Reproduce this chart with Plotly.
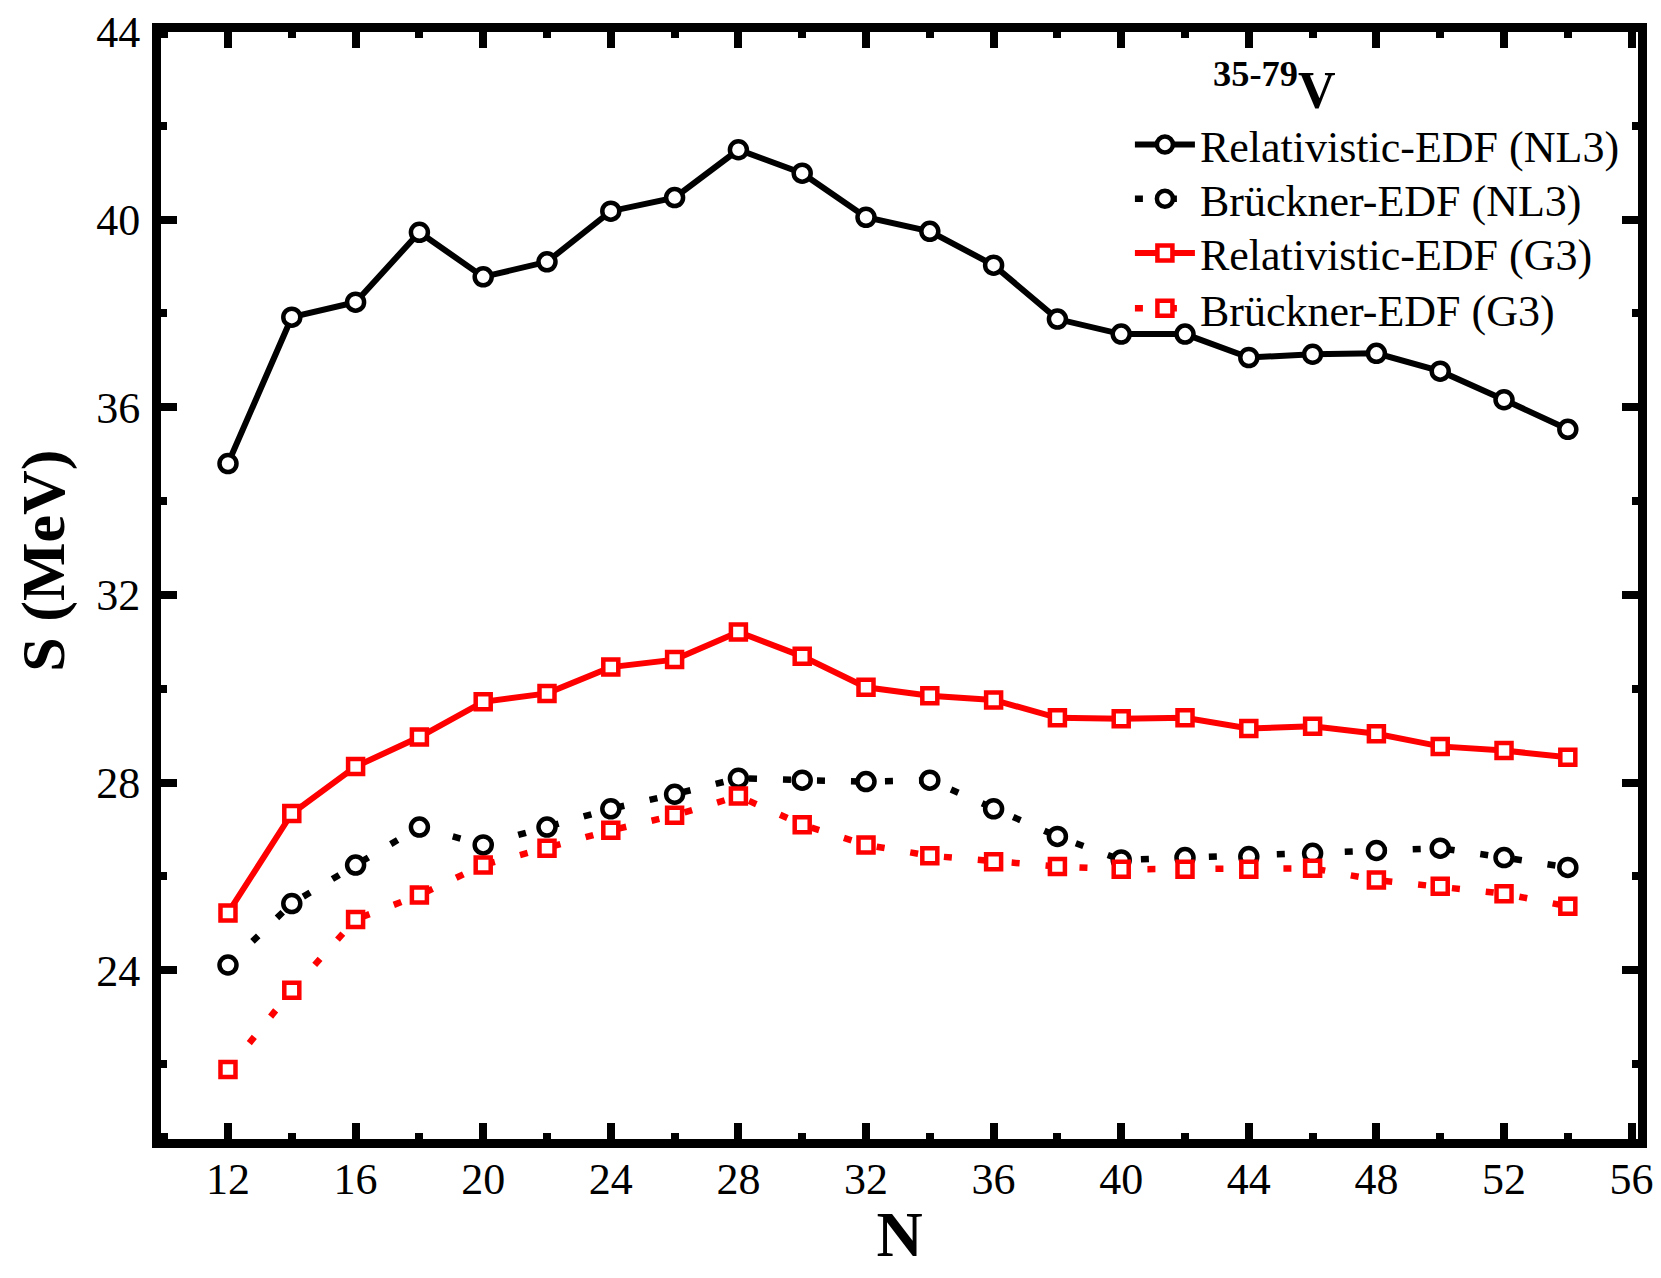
import plotly.graph_objects as go

# neutron number
N = [12, 14, 16, 18, 20, 22, 24, 26, 28, 30, 32, 34, 36, 38, 40, 42, 44, 46, 48, 50, 52, 54]

# symmetry energy S (MeV)
rel_nl3 = [34.80, 37.92, 38.24, 39.73, 38.78, 39.10, 40.18, 40.47, 41.49, 40.99, 40.05,
           39.75, 39.03, 37.88, 37.56, 37.56, 37.06, 37.13, 37.15, 36.77, 36.16, 35.53]
bru_nl3 = [24.11, 25.42, 26.24, 27.05, 26.67, 27.05, 27.44, 27.75, 28.09, 28.05, 28.02,
           28.05, 27.44, 26.85, 26.35, 26.40, 26.42, 26.49, 26.55, 26.60, 26.40, 26.19]
rel_g3 = [25.22, 27.34, 28.34, 28.97, 29.72, 29.90, 30.46, 30.62, 31.21, 30.69, 30.03,
          29.85, 29.76, 29.38, 29.36, 29.38, 29.15, 29.20, 29.04, 28.77, 28.68, 28.54]
bru_g3 = [21.88, 23.57, 25.08, 25.60, 26.24, 26.60, 26.98, 27.30, 27.71, 27.10, 26.67,
          26.44, 26.31, 26.21, 26.15, 26.15, 26.15, 26.17, 25.92, 25.79, 25.63, 25.36]

names = ["Relativistic-EDF (NL3)", "Brückner-EDF (NL3)",
         "Relativistic-EDF (G3)", "Brückner-EDF (G3)"]

FONT = "Liberation Serif, Times New Roman, serif"
dotted = "8px,26px"

fig = go.Figure()

def add(y, name, color, symbol, dash, width, size, leg):
    fig.add_trace(go.Scatter(
        x=N, y=y, name=name, mode="lines+markers", legend=leg,
        line=dict(color=color, width=width, dash=dash),
        marker=dict(symbol=symbol, size=size, color="white",
                    line=dict(color=color, width=4.5)),
    ))

add(rel_nl3, names[0], "black", "circle", "solid", 6, 17, "legend")
add(bru_nl3, names[1], "black", "circle", dotted, 6.5, 17, "legend2")
add(rel_g3, names[2], "#ff0000", "square", "solid", 6, 15, "legend3")
add(bru_g3, names[3], "#ff0000", "square", dotted, 6.5, 15, "legend4")

axis_common = dict(
    showline=True, linewidth=9, linecolor="black", mirror="allticks",
    ticks="inside", ticklen=16, tickwidth=8, tickcolor="black",
    showgrid=False, zeroline=False, automargin=False,
    ticklabeloverflow="allow",
    tickfont=dict(family=FONT, size=44, color="black"),
)

fig.update_xaxes(
    range=[9.9, 56.2], tick0=12, dtick=4,
    minor=dict(ticks="inside", ticklen=6, tickwidth=8, dtick=2, tickcolor="black", showgrid=False),
    title=dict(text="<b>N</b>", font=dict(family=FONT, size=64, color="black"), standoff=21),
    ticklabelstandoff=-7,
    **axis_common,
)
fig.update_yaxes(
    range=[20.4, 44], tick0=24, dtick=4,
    minor=dict(ticks="inside", ticklen=6, tickwidth=8, dtick=2, tickcolor="black", showgrid=False),
    ticklabelstandoff=3,
    **axis_common,
)

fig.add_annotation(
    text="<b>S (MeV)</b>", xref="paper", yref="paper", textangle=-90,
    x=-0.0795, y=0.522, xanchor="center", yanchor="middle", showarrow=False,
    font=dict(family=FONT, size=62, color="black"), borderpad=0,
)
fig.add_annotation(
    text="<b><sup>35-79</sup>V</b>", xref="paper", yref="paper",
    x=0.711, y=0.951, xanchor="left", yanchor="middle", showarrow=False,
    font=dict(family=FONT, size=52, color="black"),
)

leg_common = dict(
    x=0.656, xanchor="left", yanchor="middle",
    font=dict(family=FONT, size=44, color="black"),
    bgcolor="rgba(0,0,0,0)", itemwidth=60,
)

# page body keeps an 8px margin, so the figure is 16px smaller than the window
fig.update_layout(
    width=1645, height=1262,
    margin=dict(l=153, r=15, t=24, b=131),
    plot_bgcolor="white", paper_bgcolor="white",
    font=dict(family=FONT, color="black"),
    showlegend=True,
    legend=dict(y=0.898, **leg_common),
    legend2=dict(y=0.849, **leg_common),
    legend3=dict(y=0.800, **leg_common),
    legend4=dict(y=0.750, **leg_common),
)

fig.write_html("out.html")
